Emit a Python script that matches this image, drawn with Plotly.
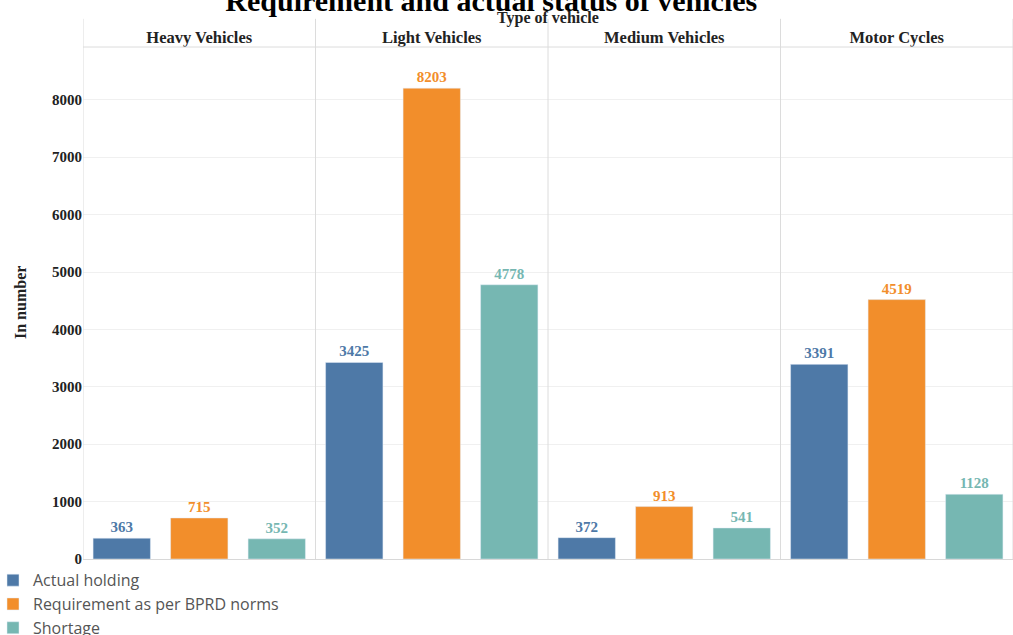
import plotly.graph_objects as go

categories = ["Heavy Vehicles", "Light Vehicles", "Medium Vehicles", "Motor Cycles"]
actual_holding = [363, 3425, 372, 3391]
requirement = [715, 8203, 913, 4519]
shortage = [352, 4778, 541, 1128]
series_names = ["Actual holding", "Requirement as per BPRD norms", "Shortage"]
colors = ["#4e79a7", "#f28e2b", "#76b7b2"]
y_ticks = [0, 1000, 2000, 3000, 4000, 5000, 6000, 7000, 8000]

serif = "Liberation Serif"
fig = go.Figure()
for name, vals, col in zip(series_names, [actual_holding, requirement, shortage], colors):
    fig.add_trace(go.Bar(
        x=categories, y=vals, name=name, marker_color=col,
        text=[str(v) for v in vals], textposition="outside",
        textfont=dict(family=serif, size=15, color=col, weight="bold"),
        cliponaxis=False,
    ))

fig.update_layout(
    width=1013, height=635,
    barmode="group", bargap=0.0, bargroupgap=0.26,
    plot_bgcolor="white", paper_bgcolor="white",
    margin=dict(l=83, r=0, t=47, b=76, autoexpand=False),
    title=dict(text="Requirement and actual status of vehicles",
               x=0.485, xanchor="center", y=0.999, yref="container", yanchor="middle",
               font=dict(family=serif, size=30, color="black", weight="bold")),
    font=dict(family=serif, color="#222"),
    legend=dict(orientation="v", xref="paper", yref="container",
                x=(-7 - 83) / 930, xanchor="left", y=0.113, yanchor="top",
                font=dict(family="Open Sans", size=16, color="#555"),
                bgcolor="rgba(0,0,0,0)", tracegroupgap=0, itemwidth=30),
    showlegend=True,
)
fig.update_xaxes(
    side="top", type="category", range=[-0.5, 3.5], automargin=False,
    tickfont=dict(family=serif, size=16.5, color="#222", weight="bold"),
    showgrid=False, ticks="", showline=False, ticklabelstandoff=0,
)
fig.update_yaxes(
    range=[0, 8920], tickvals=y_ticks, automargin=False,
    tickfont=dict(family=serif, size=15, color="#222", weight="bold"),
    showgrid=True, gridcolor="#f0f0f0", gridwidth=1,
    zeroline=True, zerolinecolor="#d8d8d8", zerolinewidth=1,
    ticks="", showline=False,
)
fig.add_annotation(text="Type of vehicle", xref="paper", yref="paper", x=0.5, y=(559 - 18) / 512,
                   xanchor="center", yanchor="middle", showarrow=False,
                   font=dict(family=serif, size=16, color="#222", weight="bold"))
fig.add_annotation(text="In number", xref="paper", yref="paper", x=(20 - 83) / 930, y=(559 - 302) / 512,
                   xanchor="center", yanchor="middle", showarrow=False, textangle=-90,
                   font=dict(family=serif, size=16, color="#222", weight="bold"))
for xv in [-0.5, 0.5, 1.5, 2.5, 3.5]:
    fig.add_shape(type="line", xref="x", yref="paper", x0=xv, x1=xv, y0=0, y1=1.055,
                  line=dict(color="#dcdcdc", width=1))
fig.add_shape(type="line", xref="paper", yref="paper", x0=0, x1=1, y0=1, y1=1,
              line=dict(color="#dcdcdc", width=1))

fig.write_html("out.html", config={"displayModeBar": False},
               post_script="document.body.style.margin='0';document.body.style.padding='0';")
